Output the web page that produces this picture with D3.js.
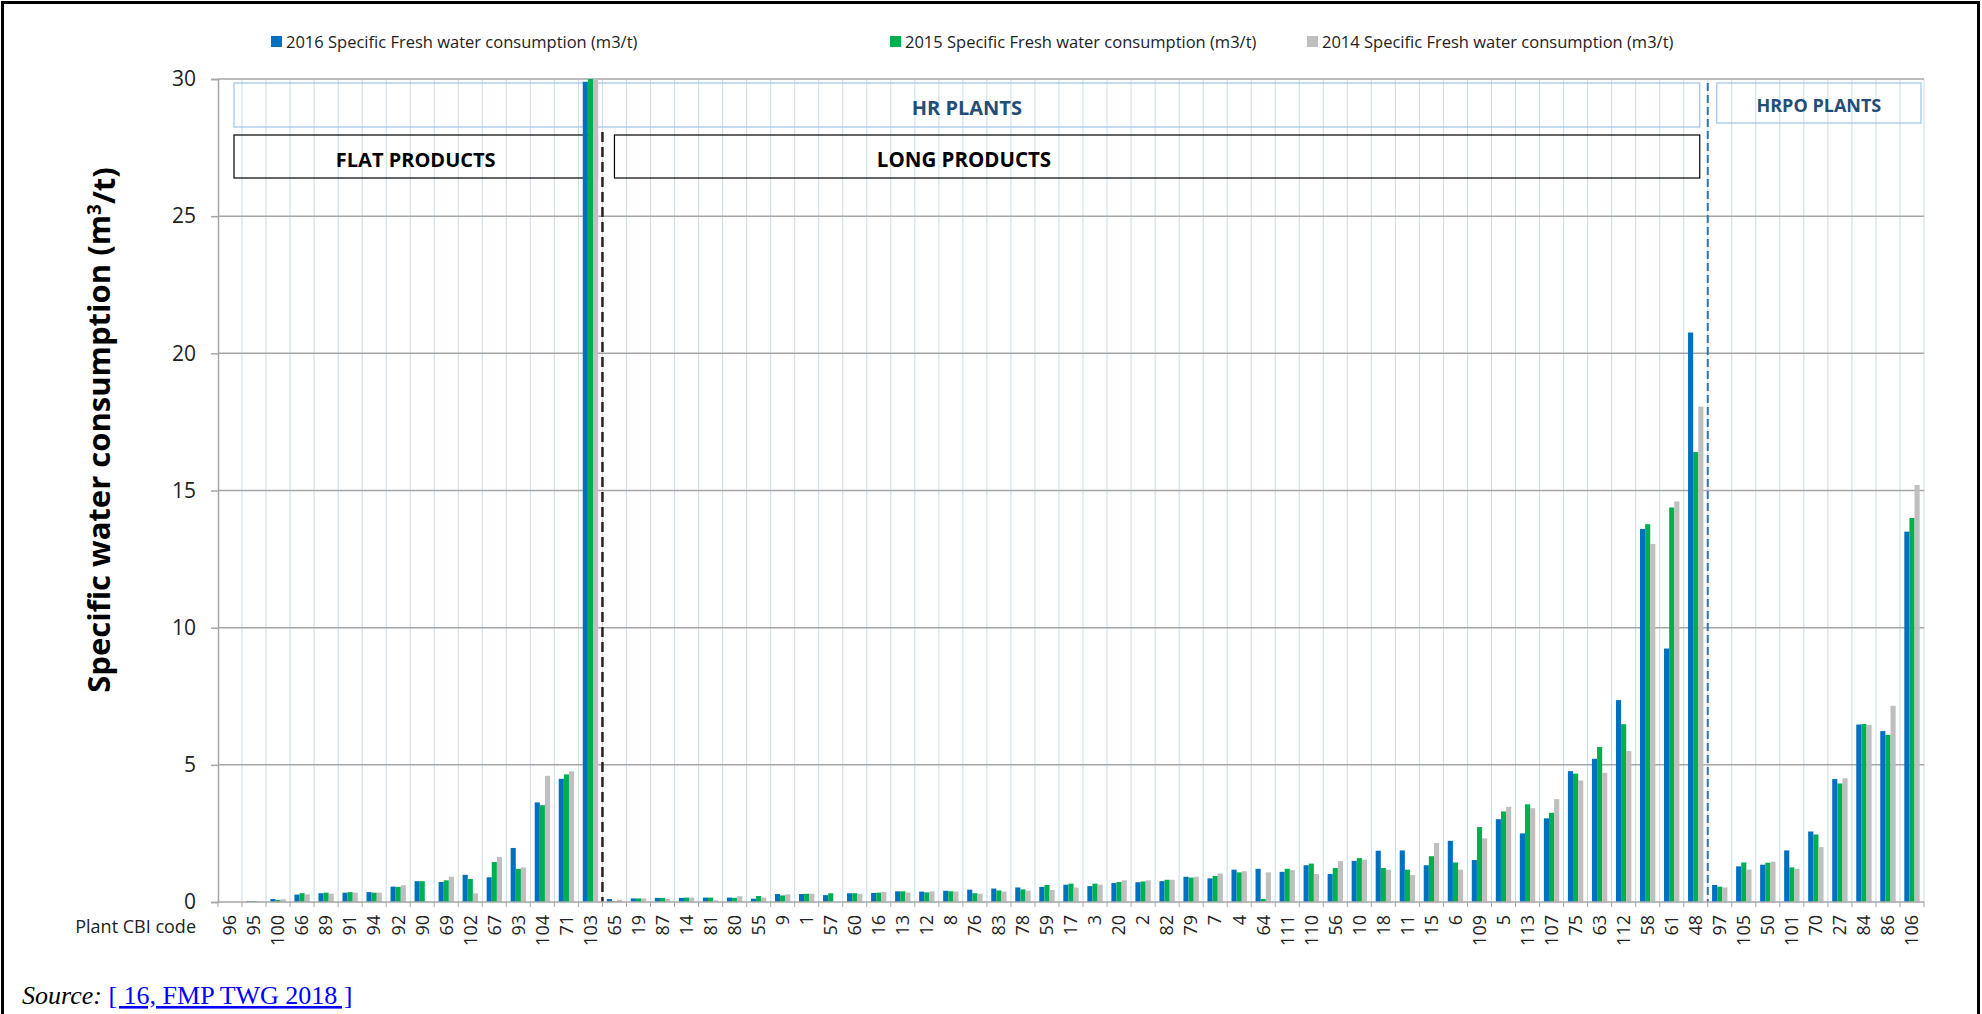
<!DOCTYPE html>
<html>
<head>
<meta charset="utf-8">
<script src="https://cdn.jsdelivr.net/npm/d3@7"></script>
<style>
  body { margin: 0; background: #fff; }
  text { font-family: "Open Sans", "Noto Sans", sans-serif; }
</style>
</head>
<body>
<svg id="chart" width="1982" height="1014"></svg>
<script>
// plant CBI codes, in the order they appear on the axis
const plantCodes = ["96", "95", "100", "66", "89", "91", "94", "92", "90", "69", "102", "67", "93", "104", "71", "103",
    "65", "19", "87", "14", "81", "80", "55", "9", "1", "57", "60", "16", "13", "12", "8", "76", "83", "78", "59", "17",
    "3", "20", "2", "82", "79", "7", "4", "64", "111", "110", "56", "10", "18", "11", "15", "6", "109", "5", "113", "107",
    "75", "63", "112", "58", "61", "48",
    "97", "105", "50", "101", "70", "27", "84", "86", "106"];

const seriesNames = ["2016 Specific Fresh water consumption (m3/t)",
    "2015 Specific Fresh water consumption (m3/t)",
    "2014 Specific Fresh water consumption (m3/t)"];

const water2016 = [0, 0.03, 0.11, 0.27, 0.32, 0.34, 0.36, 0.56, 0.76, 0.73, 0.99, 0.90, 1.97, 3.63, 4.49, 29.9,
    0.11, 0.13, 0.15, 0.15, 0.16, 0.16, 0.12, 0.29, 0.29, 0.25, 0.32, 0.33, 0.39, 0.38, 0.41, 0.45, 0.49, 0.53, 0.55, 0.63,
    0.58, 0.69, 0.72, 0.76, 0.92, 0.86, 1.18, 1.21, 1.10, 1.34, 1.02, 1.50, 1.87, 1.88, 1.34, 2.23, 1.53, 3.02, 2.50, 3.05,
    4.77, 5.22, 7.36, 13.6, 9.24, 20.76,
    0.62, 1.30, 1.36, 1.88, 2.57, 4.48, 6.47, 6.23, 13.5];

const water2015 = [0, 0.03, 0.07, 0.32, 0.34, 0.36, 0.34, 0.55, 0.76, 0.79, 0.84, 1.46, 1.21, 3.53, 4.65, 30,
    0.02, 0.13, 0.15, 0.16, 0.16, 0.15, 0.22, 0.24, 0.30, 0.32, 0.32, 0.34, 0.39, 0.35, 0.39, 0.32, 0.42, 0.46, 0.62, 0.67,
    0.67, 0.73, 0.75, 0.81, 0.89, 0.95, 1.08, 0.11, 1.21, 1.40, 1.24, 1.60, 1.24, 1.18, 1.67, 1.44, 2.73, 3.30, 3.56, 3.25,
    4.68, 5.65, 6.48, 13.77, 14.38, 16.4,
    0.56, 1.44, 1.43, 1.26, 2.46, 4.32, 6.49, 6.09, 14.0];

const water2014 = [0, 0.02, 0.10, 0.28, 0.30, 0.34, 0.34, 0.61, 0.03, 0.92, 0.32, 1.64, 1.26, 4.60, 4.76, 30,
    0.08, 0.13, 0.11, 0.16, 0.06, 0.21, 0.16, 0.28, 0.30, 0, 0.30, 0.36, 0.35, 0.39, 0.38, 0.30, 0.38, 0.41, 0.44, 0.53,
    0.63, 0.79, 0.79, 0.81, 0.92, 1.04, 1.12, 1.08, 1.16, 1.02, 1.49, 1.54, 1.18, 0.98, 2.15, 1.18, 2.32, 3.47, 3.42, 3.75,
    4.43, 4.71, 5.50, 13.05, 14.6, 18.06,
    0.53, 1.18, 1.47, 1.21, 2.0, 4.51, 6.46, 7.15, 15.2];

const seriesColors = ["#0070c0", "#00b050", "#bfbfbf"];
const yTicks = [0, 5, 10, 15, 20, 25, 30];

// group sizes: flat products, long products (both HR), then HRPO plants
const flatCount = 16;
const longCount = 46;

const svg = d3.select("#chart");
const plotLeft = 218, plotRight = 1924, plotTop = 79, plotBottom = 902;

const x0 = d3.scaleBand().domain(plantCodes).range([plotLeft, plotRight]).padding(0);
const bw = x0.bandwidth();
const x1 = d3.scaleBand().domain([0, 1, 2]).range([bw * 0.18, bw * 0.82]).padding(0);
const y = d3.scaleLinear().domain([0, 30]).range([plotBottom, plotTop]);

// edge of category i (left side)
function edge(i) {
    return i < plantCodes.length ? x0(plantCodes[i]) : plotRight;
}

// outer frame
svg.append("rect")
    .attr("x", 2.5).attr("y", 2.5)
    .attr("width", 1976).attr("height", 1030)
    .attr("fill", "none")
    .attr("stroke", "#000")
    .attr("stroke-width", 3);

// vertical gridlines between categories
const grid = svg.append("g");
for (let i = 1; i <= plantCodes.length; i++) {
    grid.append("line")
        .attr("x1", edge(i)).attr("x2", edge(i))
        .attr("y1", plotTop).attr("y2", plotBottom)
        .style("stroke", "#c8dcea")
        .style("stroke-width", 1);
}
// horizontal gridlines
for (const t of yTicks.slice(1)) {
    grid.append("line")
        .attr("x1", plotLeft).attr("x2", plotRight)
        .attr("y1", y(t)).attr("y2", y(t))
        .style("stroke", "#a6a6a6")
        .style("stroke-width", 1.5);
}

// annotation boxes
function box(xa, xb, ya, yb, stroke, label, labelX, color, size) {
    svg.append("rect")
        .attr("x", xa).attr("y", ya)
        .attr("width", xb - xa).attr("height", yb - ya)
        .attr("fill", "none")
        .attr("stroke", stroke)
        .attr("stroke-width", 1.2);
    svg.append("text")
        .attr("x", labelX).attr("y", (ya + yb) / 2 + 3)
        .attr("dy", "0.36em")
        .attr("text-anchor", "middle")
        .style("font-size", size + "px")
        .style("font-weight", "bold")
        .style("fill", color)
        .text(label);
}
const hrEnd = edge(flatCount + longCount);
box(plotLeft + 16, hrEnd - 8, 83, 127, "#9dc3e6", "HR PLANTS", (plotLeft + 16 + hrEnd - 8) / 2, "#1f4e79", 20);
box(hrEnd + 9, plotRight - 3, 83, 123, "#9dc3e6", "HRPO PLANTS", (hrEnd + 9 + plotRight - 3) / 2, "#1f4e79", 18);
box(plotLeft + 16, edge(flatCount) - 5, 135, 178, "#000", "FLAT PRODUCTS", (plotLeft + 16 + edge(flatCount) - 5) / 2, "#000", 20);
box(edge(flatCount) + 12, hrEnd - 8, 135, 178, "#000", "LONG PRODUCTS", 964, "#000", 20.5);

// bars
const allSeries = [water2016, water2015, water2014];
const rows = plantCodes.map((code, i) => ({ code: code, vals: allSeries.map(s => s[i]) }));
const groups = svg.append("g").selectAll("g")
    .data(rows)
    .join("g")
    .attr("transform", d => "translate(" + x0(d.code) + ",0)");
groups.selectAll("rect")
    .data(d => d.vals.map((v, k) => ({ k: k, v: v })))
    .join("rect")
    .attr("x", d => x1(d.k))
    .attr("y", d => y(d.v))
    .attr("width", x1.bandwidth())
    .attr("height", d => plotBottom - y(d.v))
    .attr("fill", d => seriesColors[d.k]);

// group separators (dashed)
svg.append("line")
    .attr("x1", edge(flatCount)).attr("x2", edge(flatCount))
    .attr("y1", 132).attr("y2", plotBottom)
    .style("stroke", "#222")
    .style("stroke-width", 2.5)
    .style("stroke-dasharray", "10,5");
svg.append("line")
    .attr("x1", hrEnd).attr("x2", hrEnd)
    .attr("y1", 83).attr("y2", plotBottom)
    .style("stroke", "#2e75b6")
    .style("stroke-width", 2)
    .style("stroke-dasharray", "8,4");

// y axis
const yAxis = svg.append("g")
    .attr("transform", "translate(" + plotLeft + ",0)")
    .call(d3.axisLeft(y).tickValues(yTicks).tickSize(7).tickPadding(15));
yAxis.select(".domain").attr("stroke", "#a6a6a6").attr("stroke-width", 1.5);
yAxis.selectAll(".tick line").attr("stroke", "#a6a6a6").attr("stroke-width", 1.5);
yAxis.selectAll(".tick text")
    .style("font-size", "21px")
    .style("fill", "#222");

// x axis line and ticks at category edges
svg.append("line")
    .attr("x1", plotLeft).attr("x2", plotRight)
    .attr("y1", plotBottom).attr("y2", plotBottom)
    .style("stroke", "#a6a6a6")
    .style("stroke-width", 1.5);
for (let i = 0; i <= plantCodes.length; i++) {
    svg.append("line")
        .attr("x1", edge(i)).attr("x2", edge(i))
        .attr("y1", plotBottom).attr("y2", plotBottom + 5)
        .style("stroke", "#a6a6a6")
        .style("stroke-width", 1);
}
svg.append("g").selectAll("text")
    .data(plantCodes)
    .join("text")
    .attr("transform", d => "translate(" + (x0(d) + bw / 2) + "," + (plotBottom + 13) + ") rotate(-90)")
    .attr("dy", "0.35em")
    .attr("text-anchor", "end")
    .style("font-size", "18px")
    .style("fill", "#222")
    .text(d => d);

svg.append("text")
    .attr("x", 196).attr("y", 927)
    .attr("dy", "0.35em")
    .attr("text-anchor", "end")
    .style("font-size", "18px")
    .style("fill", "#222")
    .text("Plant CBI code");

// y axis title
const yTitle = svg.append("text")
    .attr("transform", "translate(99,430) rotate(-90)")
    .attr("dy", "0.35em")
    .attr("text-anchor", "middle")
    .style("font-size", "31px")
    .style("font-weight", "bold")
    .style("fill", "#000");
yTitle.append("tspan").text("Specific water consumption (m");
yTitle.append("tspan").attr("dy", "-0.45em").style("font-size", "19px").text("3");
yTitle.append("tspan").attr("dy", "0.45em").text("/t)");

// legend
const legendX = [271, 890, 1307];
const legend = svg.append("g");
seriesNames.forEach((name, k) => {
    legend.append("rect")
        .attr("x", legendX[k]).attr("y", 36)
        .attr("width", 11).attr("height", 11)
        .attr("fill", seriesColors[k]);
    legend.append("text")
        .attr("x", legendX[k] + 15).attr("y", 42)
        .attr("dy", "0.35em")
        .style("font-size", "16.5px")
        .style("fill", "#222")
        .text(name);
});

// source line
const src = svg.append("text")
    .attr("x", 22).attr("y", 1004)
    .style("font-family", "'Liberation Serif', 'Times New Roman', serif")
    .style("font-size", "26px");
src.append("tspan").style("font-style", "italic").style("fill", "#000").text("Source:");
src.append("tspan").style("fill", "#000").text(" ");
src.append("tspan").style("fill", "#0000ff").style("text-decoration", "underline").text("[ 16, FMP TWG 2018 ]");
</script>
</body>
</html>
